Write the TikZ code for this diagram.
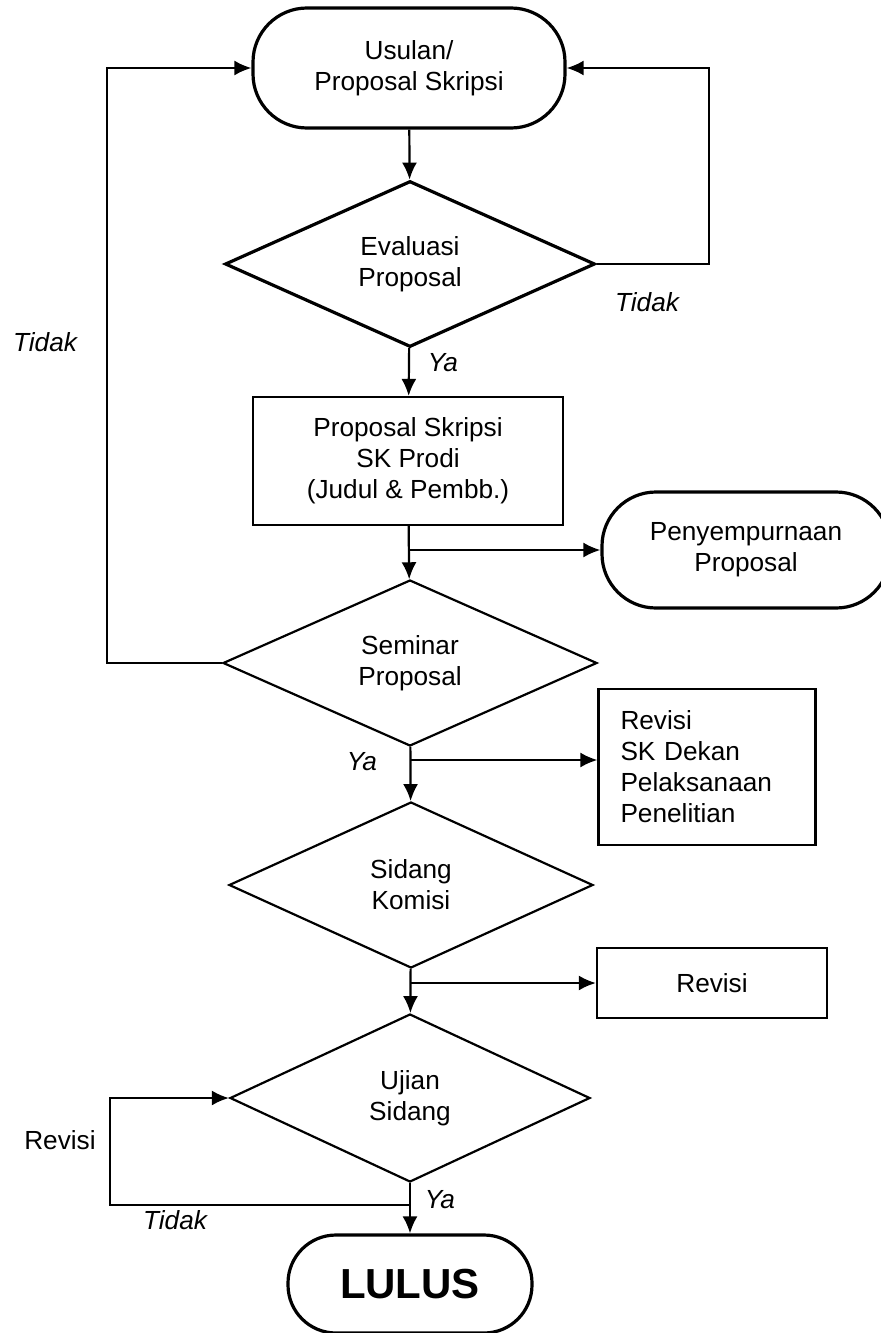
\documentclass[tikz,border=0pt]{standalone}
\usepackage{fontspec}
\setmainfont{Liberation Sans}
\usetikzlibrary{arrows.meta, shapes.geometric}

\begin{document}
\begin{tikzpicture}[x=0.5pt, y=-0.5pt, line width=1.1pt,
  font=\fontsize{13.1}{15.5}\selectfont,
  arr/.style={-{Latex[length=8.5pt,width=7.5pt]}},
  term/.style={draw, rectangle, rounded corners=27pt, line width=1.6pt, align=center, inner sep=0pt},
  decide/.style={draw, diamond, minimum width=184pt, minimum height=83pt, inner sep=0pt, align=center},
  proc/.style={draw, rectangle, inner sep=0pt, align=center},
  lbl/.style={font=\fontsize{13.1}{15.5}\selectfont\itshape},
]
  \useasboundingbox (0,0) rectangle (881,1333);
  % nodes
  \node[term, minimum width=156pt, minimum height=60pt] (start) at (409,68) {Usulan/\\Proposal Skripsi};
  \node[decide, line width=1.6pt, minimum width=185pt] (eval) at (410,264) {Evaluasi\\Proposal};
  \node[proc, minimum width=155pt, minimum height=64pt] (sk) at (408,461) {Proposal Skripsi\\SK Prodi\\(Judul \& Pembb.)};
  \node[term, minimum width=144pt, minimum height=58pt] (sempurna) at (746,550) {Penyempurnaan\\Proposal};
  \node[decide, minimum width=187pt] (seminar) at (410,663) {Seminar\\Proposal};
  \node[draw, rectangle, inner ysep=0pt, inner xsep=11pt, text width=86.5pt, minimum height=78pt, align=left] (dekan) at (707,767) {Revisi\\SK Dekan\\Pelaksanaan\\Penelitian};
  \node[decide, minimum width=182pt] (komisi) at (411,885) {Sidang\\Komisi};
  \node[proc, minimum width=115pt, minimum height=35pt] (revisi) at (712,983) {Revisi};
  \node[decide, minimum width=180pt, minimum height=84pt] (ujian) at (410,1098) {Ujian\\Sidang};
  \node[term, minimum width=122pt, minimum height=49pt, rounded corners=24pt,
    font=\fontsize{21}{25}\selectfont\bfseries] (lulus) at (410,1284) {LULUS};
  % branch points
  \coordinate (b1) at (sk.south |- sempurna.west);
  \coordinate (b2) at (410,760);
  \coordinate (b3) at (komisi.south |- revisi.west);
  \coordinate (b4) at (410,1205);
  % connectors
  \draw[arr] (start) -- (eval);
  \draw[arr] (eval.east) -- ++(112,0) |- (start.east);
  \draw[arr] (eval) -- (sk);
  \draw[arr] (sk) -- (seminar);
  \draw[arr] (b1) -- (sempurna.west);
  \draw[arr] (seminar.west) -- (107,663) |- (start.west);
  \draw[arr] (seminar) -- (komisi);
  \draw[arr] (b2) -- (b2 -| dekan.west);
  \draw[arr] (komisi) -- (ujian);
  \draw[arr] (b3) -- (revisi.west);
  \draw[arr] (ujian) -- (lulus);
  \draw[arr] (b4) -- (110,1205) |- (ujian.west);
  % labels
  \node[lbl] (tidak1) at (647,302) {Tidak};
  \node[lbl] (tidak2) at (45,342) {Tidak};
  \node[lbl] (ya1) at (443,363) {Ya};
  \node[lbl] (ya2) at (362,762) {Ya};
  \node (revlbl) at (60,1140) {Revisi};
  \node[lbl] (tidak3) at (175,1220) {Tidak};
  \node[lbl] (ya3) at (440,1200) {Ya};
\end{tikzpicture}
\end{document}
